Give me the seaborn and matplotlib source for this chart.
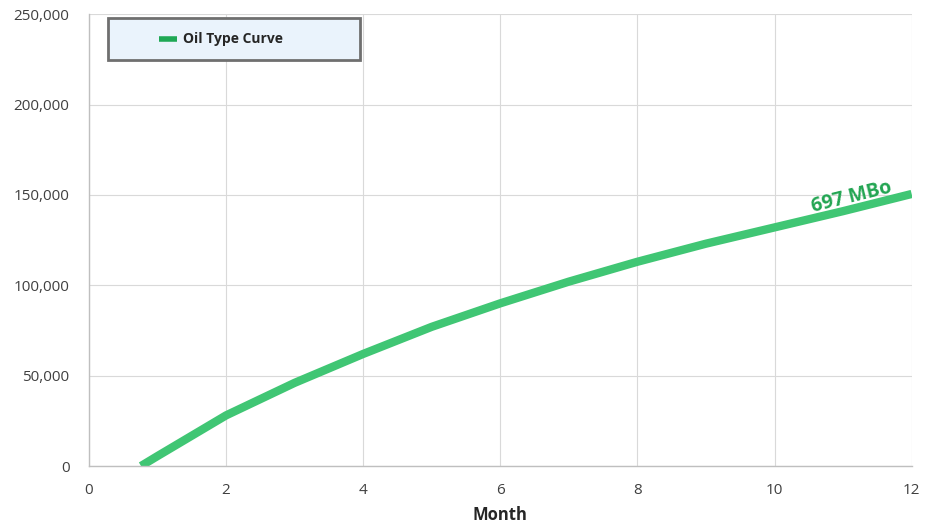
import numpy as np
import pandas as pd
import seaborn as sns
import matplotlib.pyplot as plt
from matplotlib.patches import Rectangle
from matplotlib.ticker import FuncFormatter

# Cumulative oil type curve
months = [0.76, 1, 2, 3, 4, 5, 6, 7, 8, 9, 10, 11, 12]
cum_oil = [0, 5500, 28000, 46000, 62000, 77000, 90000, 102000, 113000, 123000, 132000, 141000, 150500]
series_name = "Oil Type Curve"
eur_label = "697 MBo"

df = pd.DataFrame({"Month": months, "Oil": cum_oil})

sns.set_style("whitegrid")
plt.rcParams['font.family'] = ['Open Sans', 'DejaVu Sans']

fig = plt.figure(figsize=(9.36, 5.31), dpi=100)
ax = fig.add_axes([0.095, 0.1224, 0.879, 0.851])

sns.lineplot(data=df, x="Month", y="Oil", ax=ax, color="#40c674", linewidth=6,
             label=series_name, solid_capstyle="butt")

ax.set_xlim(0, 12)
ax.set_ylim(0, 250000)
ax.set_xticks(range(0, 13, 2))
ax.set_yticks(range(0, 250001, 50000))
ax.yaxis.set_major_formatter(FuncFormatter(lambda v, p: f"{int(v):,}"))
ax.tick_params(axis="both", labelsize=11, labelcolor="#404040", length=4, width=0.8,
               color="#bfbfbf", direction="out")
ax.tick_params(axis="x", pad=12, length=0)
ax.tick_params(axis="y", pad=10)
ax.grid(True, color="#d9d9d9", linewidth=0.8)
for s in ["top", "right"]:
    ax.spines[s].set_visible(False)
for s in ["left", "bottom"]:
    ax.spines[s].set_color("#bfbfbf")
    ax.spines[s].set_linewidth(1)

ax.set_xlabel("Month", fontsize=12, fontweight="bold", color="#262626", labelpad=6)
ax.set_ylabel("")

ax.text(11.12, 148500, eur_label, color="#22a552", fontsize=14, fontweight="bold",
        rotation=14, ha="center", va="center")

# legend box
ax.add_patch(Rectangle((0.023, 0.898), 0.306, 0.093, transform=ax.transAxes,
                       facecolor="#eaf3fc", edgecolor="#6f6f6f", linewidth=2,
                       zorder=5, clip_on=False))
leg = ax.legend(loc="center left", bbox_to_anchor=(0.077, 0.944), frameon=False,
                handlelength=1.3, handletextpad=0.4, borderpad=0,
                prop={"size": 10, "weight": "bold"})
leg.set_zorder(6)
for line in leg.get_lines():
    line.set_linewidth(4)
    line.set_color("#1fa855")
for t in leg.get_texts():
    t.set_color("#262626")

fig.savefig("out.png", dpi=100)
